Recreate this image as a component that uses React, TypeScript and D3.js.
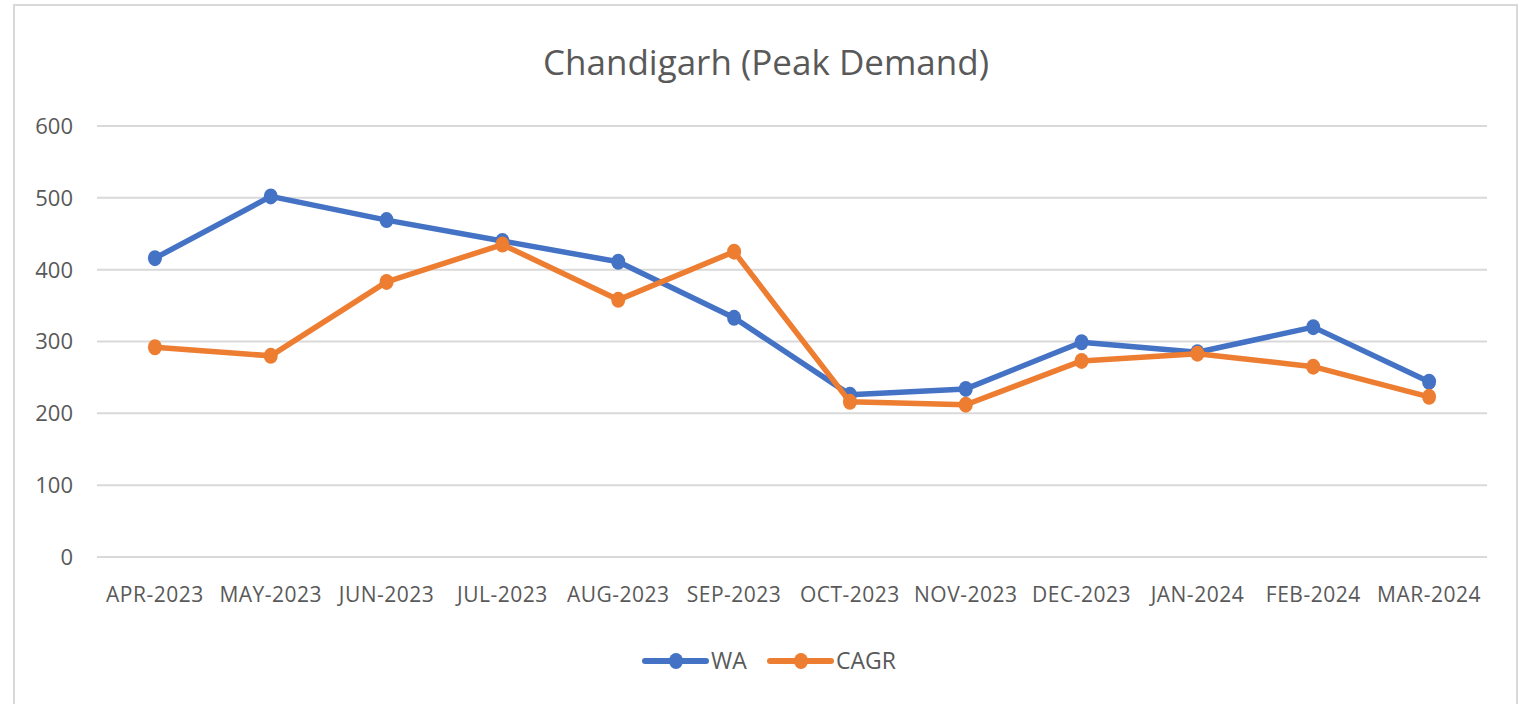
import React, { useEffect, useRef } from "react";
import * as d3 from "d3";

const months = [
  "APR-2023", "MAY-2023", "JUN-2023", "JUL-2023", "AUG-2023", "SEP-2023",
  "OCT-2023", "NOV-2023", "DEC-2023", "JAN-2024", "FEB-2024", "MAR-2024",
];
const waValues = [416, 502, 469, 440, 411, 333, 226, 234, 299, 285, 320, 244];
const cagrValues = [292, 280, 383, 435, 358, 425, 216, 212, 273, 283, 265, 223];
const yTicks = [0, 100, 200, 300, 400, 500, 600];

const series = [
  { name: "WA", values: waValues, color: "#4472c4" },
  { name: "CAGR", values: cagrValues, color: "#ed7d31" },
];

const W = 1524;
const H = 704;
const FONT = "'Open Sans', sans-serif";

const App = () => {
  const ref = useRef<SVGSVGElement>(null);

  useEffect(() => {
    const svg = d3.select(ref.current);
    svg.selectAll("*").remove();

    // chart frame (bottom edge is cut off in the picture)
    svg.append("path")
      .attr("d", `M14,${H} L14,5 L1517,5 L1517,${H}`)
      .attr("fill", "none")
      .attr("stroke", "#d9d9d9")
      .attr("stroke-width", 2);

    const x = d3.scaleBand().domain(months).range([97, 1487]);
    const y = d3.scaleLinear().domain([0, 600]).range([557, 126]);
    const cx = (i: number) => (x(months[i]) ?? 0) + x.bandwidth() / 2;

    svg.append("text")
      .attr("x", 766)
      .attr("y", 75)
      .attr("text-anchor", "middle")
      .attr("font-family", FONT)
      .attr("font-size", 35)
      .attr("fill", "#595959")
      .text("Chandigarh (Peak Demand)");

    const grid = svg.append("g");
    grid.selectAll("line")
      .data(yTicks)
      .enter()
      .append("line")
      .attr("x1", 97)
      .attr("x2", 1487)
      .attr("y1", d => y(d))
      .attr("y2", d => y(d))
      .attr("stroke", "#d9d9d9")
      .attr("stroke-width", 2);

    grid.selectAll("text")
      .data(yTicks)
      .enter()
      .append("text")
      .attr("x", 73)
      .attr("y", d => y(d))
      .attr("dy", "0.36em")
      .attr("text-anchor", "end")
      .attr("font-family", FONT)
      .attr("font-size", 22)
      .attr("fill", "#595959")
      .text(d => d);

    svg.append("g")
      .selectAll("text")
      .data(months)
      .enter()
      .append("text")
      .attr("x", (_, i) => cx(i))
      .attr("y", 602)
      .attr("text-anchor", "middle")
      .attr("font-family", FONT)
      .attr("font-size", 21)
      .attr("letter-spacing", 0.5)
      .attr("fill", "#595959")
      .text(d => d);

    const line = d3.line<number>()
      .x((_, i) => cx(i))
      .y(d => y(d));

    series.forEach(s => {
      const g = svg.append("g");
      g.append("path")
        .attr("d", line(s.values))
        .attr("fill", "none")
        .attr("stroke", s.color)
        .attr("stroke-width", 5.5)
        .attr("stroke-linejoin", "round")
        .attr("stroke-linecap", "round");
      g.selectAll("ellipse")
        .data(s.values)
        .enter()
        .append("ellipse")
        .attr("cx", (_, i) => cx(i))
        .attr("cy", d => y(d))
        .attr("rx", 7)
        .attr("ry", 8)
        .attr("fill", s.color);
    });

    // legend
    const legend = svg.append("g");
    const legendX = [645, 770];
    series.forEach((s, i) => {
      const lx = legendX[i];
      legend.append("line")
        .attr("x1", lx)
        .attr("x2", lx + 61)
        .attr("y1", 661)
        .attr("y2", 661)
        .attr("stroke", s.color)
        .attr("stroke-width", 6)
        .attr("stroke-linecap", "round");
      legend.append("ellipse")
        .attr("cx", lx + 31)
        .attr("cy", 661)
        .attr("rx", 7)
        .attr("ry", 8)
        .attr("fill", s.color);
      legend.append("text")
        .attr("x", lx + 66)
        .attr("y", 661)
        .attr("dy", "0.36em")
        .attr("font-family", FONT)
        .attr("font-size", 23)
        .attr("fill", "#595959")
        .text(s.name);
    });
  }, []);

  return (
    <svg
      ref={ref}
      width={W}
      height={H}
      style={{ position: "absolute", left: 0, top: 0, background: "#fff" }}
    />
  );
};

export default App;
